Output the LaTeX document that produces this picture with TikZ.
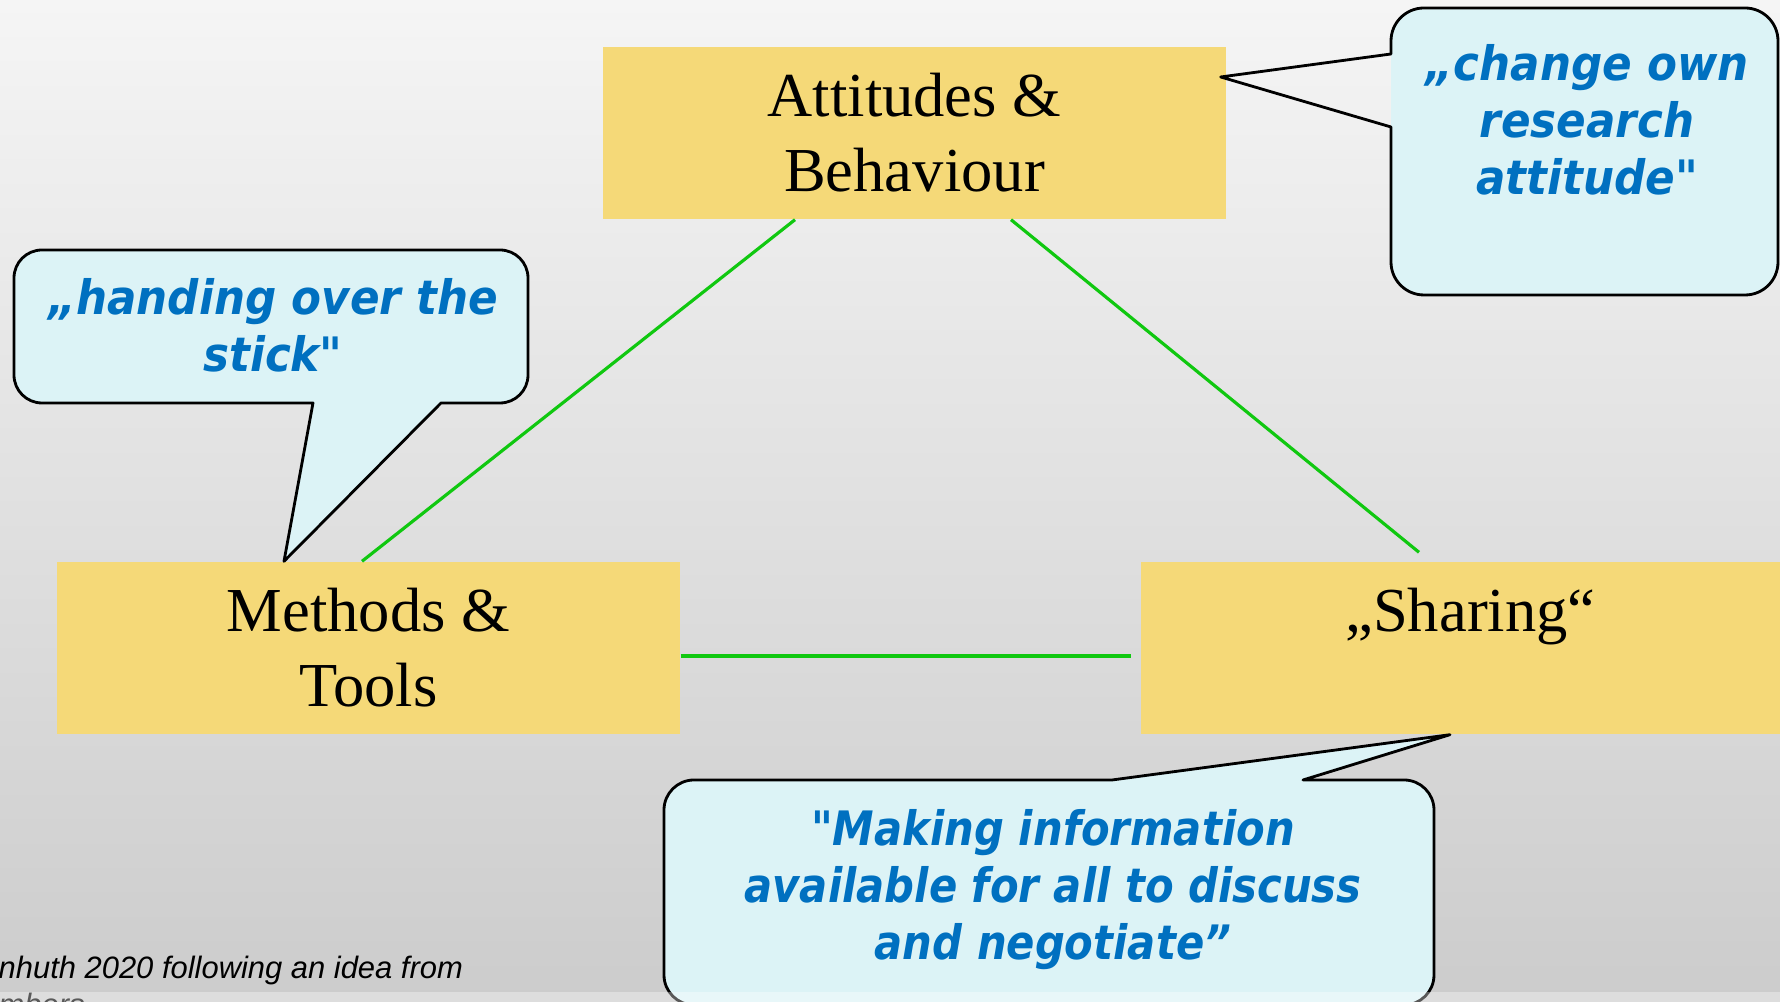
\documentclass[tikz,border=0pt]{standalone}
\usepackage{fontspec}
\setmainfont{Liberation Serif}
\newfontfamily\quotefont[FakeStretch=0.92,Ligatures=TeXOff]{DejaVu Sans}
\newfontfamily\narrowquotefont[FakeStretch=0.88,Ligatures=TeXOff]{DejaVu Sans}
\newfontfamily\notefont{Liberation Sans}
\usetikzlibrary{positioning}
\definecolor{PaperTop}{RGB}{245,245,245}
\definecolor{PaperBottom}{RGB}{204,204,204}
\definecolor{BoxYellow}{RGB}{245,217,120}
\definecolor{BubbleCyan}{RGB}{220,243,246}
\definecolor{QuoteBlue}{RGB}{0,112,192}
\definecolor{LinkGreen}{RGB}{16,200,16}

\begin{document}
\begin{tikzpicture}[
    box/.style={fill=BoxYellow, inner sep=0pt, minimum height=1.72cm, align=center,
        font=\fontsize{17.8}{21.3}\selectfont},
    link/.style={LinkGreen, line width=0.9pt},
    bubble/.style={fill=BubbleCyan, draw=black, line width=0.8pt, line join=round},
    quote/.style={QuoteBlue, align=center, inner sep=0pt,
        font=\quotefont\fontsize{13.5}{16.2}\selectfont\bfseries\itshape}]
    % paper
    \useasboundingbox (0,0) rectangle (17.8,10.02);
    \shade[top color=PaperTop, bottom color=PaperBottom] (0,0) rectangle (17.8,10.02);

    % triangle corners
    \node[box, minimum width=6.23cm] (att) at (9.145,8.69) {Attitudes \&\\Behaviour};
    \node[box, minimum width=6.23cm] (meth) at (3.685,3.54) {Methods \&\\Tools};
    \node[box, minimum width=6.59cm] (share) at (14.705,3.54) {„Sharing“\\\phantom{Tools}};

    % triangle sides
    \draw[link] ([xshift=-1.195cm]att.south) -- ([xshift=-0.065cm]meth.north);
    \draw[link] ([xshift=0.965cm]att.south) -- ([xshift=-0.515cm,yshift=0.09cm]share.north);
    \draw[link] ([yshift=-0.08cm]meth.east) -- ([xshift=-0.09cm,yshift=-0.08cm]share.west);

    % callout tips
    \coordinate (tipA) at ([xshift=-0.06cm,yshift=0.56cm]att.east);
    \coordinate (tipH) at ([xshift=-0.845cm]meth.north);
    \coordinate (tipS) at ([xshift=-0.205cm]share.south);

    % left callout
    \path[bubble] (3.13,5.99) -- (tipH) -- (4.41,5.99) -- (5.00,5.99)
        arc[start angle=-90, end angle=0, radius=0.28] -- (5.28,7.24)
        arc[start angle=0, end angle=90, radius=0.28] -- (0.42,7.52)
        arc[start angle=90, end angle=180, radius=0.28] -- (0.14,6.27)
        arc[start angle=180, end angle=270, radius=0.28] -- cycle;
    \node[quote] (qhand) at (2.73,6.77) {„handing over the\\stick"};

    % right callout, open tip
    \fill[BubbleCyan, rounded corners=0.33cm] (13.91,7.07) rectangle (17.78,9.94);
    \draw[black, line width=0.8pt, line join=round] (13.91,8.75) -- (tipA) -- (13.91,9.48) -- (13.91,9.61)
        arc[start angle=180, end angle=90, radius=0.33] -- (17.45,9.94)
        arc[start angle=90, end angle=0, radius=0.33] -- (17.78,7.40)
        arc[start angle=0, end angle=-90, radius=0.33] -- (14.24,7.07)
        arc[start angle=270, end angle=180, radius=0.33] -- cycle;
    \node[quote] (qchange) at (15.87,8.82) {„change own\\research\\attitude"};

    % bottom callout
    \path[bubble] (11.12,2.22) -- (tipS) -- (13.03,2.22) -- (14.04,2.22)
        arc[start angle=90, end angle=0, radius=0.3] -- (14.34,0.27)
        arc[start angle=0, end angle=-90, radius=0.3] -- (6.94,-0.03)
        arc[start angle=270, end angle=180, radius=0.3] -- (6.64,1.92)
        arc[start angle=180, end angle=90, radius=0.3] -- cycle;
    \node[quote, font=\narrowquotefont\fontsize{13.5}{16.2}\selectfont\bfseries\itshape] (qmake)
        at (10.53,1.12) {"Making information\\available for all to discuss\\and negotiate”};

    % source note
    \node[anchor=north west, align=left, inner sep=0pt,
        font=\notefont\fontsize{8.8}{10.6}\selectfont\itshape] (credit)
        at (-0.02,0.47) {nhuth 2020 following an idea from\\mbers};

    \fill[white, opacity=0.35] (0,0) rectangle (17.8,0.1);
\end{tikzpicture}
\end{document}
